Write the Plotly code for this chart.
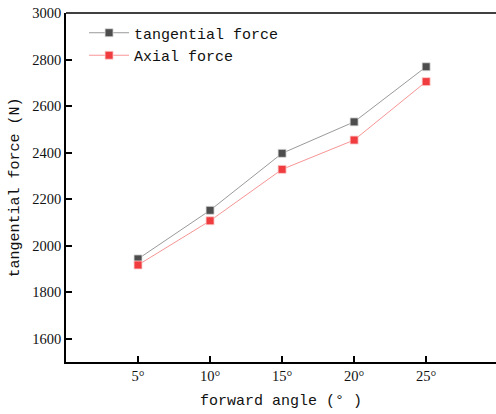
import plotly.graph_objects as go

categories = ["5°", "10°", "15°", "20°", "25°"]
tangential_force = [1943, 2152, 2397, 2532, 2769]
axial_force = [1917, 2107, 2328, 2454, 2705]
y_ticks = [1600, 1800, 2000, 2200, 2400, 2600, 2800, 3000]

xpos = list(range(1, len(categories) + 1))
mono = "Liberation Mono, Courier New, monospace"
serif = "Liberation Serif, Times New Roman, serif"

fig = go.Figure()
fig.add_trace(go.Scatter(
    x=xpos, y=tangential_force, mode="lines+markers", name="tangential force",
    line=dict(color="#9a9a9a", width=1),
    marker=dict(symbol="square", size=8, color="#4d4d4d", line=dict(color="#dddddd", width=0.8)),
))
fig.add_trace(go.Scatter(
    x=xpos, y=axial_force, mode="lines+markers", name="Axial force",
    line=dict(color="#f79595", width=1),
    marker=dict(symbol="square", size=8, color="#f03c3f", line=dict(color="#fbd0d0", width=0.8)),
))

fig.update_layout(
    width=496, height=414,
    margin=dict(l=66, r=0, t=13, b=52, autoexpand=False),
    paper_bgcolor="white", plot_bgcolor="white",
    showlegend=True,
    legend=dict(x=0.042, y=0.99, xanchor="left", yanchor="top",
                font=dict(family=mono, size=15, color="#111"),
                bgcolor="rgba(0,0,0,0)", tracegroupgap=0, itemwidth=40),
    xaxis=dict(range=[0, 5.97], tickvals=xpos, ticktext=categories, automargin=False,
               showgrid=False, zeroline=False, showline=True, linecolor="black", linewidth=1.5,
               ticks="inside", ticklen=6, tickcolor="black", tickwidth=1.5,
               tickfont=dict(family=serif, size=14.5, color="#111"),
               title=dict(text="forward angle (° )", font=dict(family=mono, size=15, color="#111"), standoff=11)),
    yaxis=dict(range=[1500, 3000], tickvals=y_ticks, automargin=False,
               showgrid=False, zeroline=False, showline=True, linecolor="black", linewidth=1.5,
               ticks="inside", ticklen=6, tickcolor="black", tickwidth=1.5,
               tickfont=dict(family=serif, size=14.5, color="#111"),
               title=dict(text="tangential force (N)", font=dict(family=mono, size=15, color="#111"), standoff=9)),
)
fig.add_shape(type="line", xref="paper", yref="paper", x0=0, x1=1, y0=1, y1=1,
              line=dict(color="black", width=1.5))

fig.write_html("out.html", config={"displayModeBar": False},
               post_script="document.body.style.margin='0';document.body.style.overflow='hidden';document.documentElement.style.overflow='hidden';")
